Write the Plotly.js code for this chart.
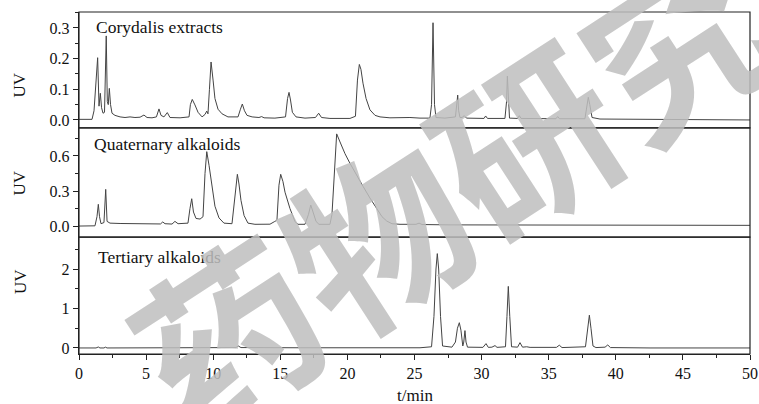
<!DOCTYPE html>
<html>
<head>
<meta charset="utf-8">
<script src="https://cdn.plot.ly/plotly-3.0.1.min.js"></script>
<style>html,body{margin:0;padding:0;background:#fff;}#chart{width:759px;height:404px;}</style>
</head>
<body>
<div id="chart"></div>
<script>
// ---- data (time in min, UV absorbance) ----
const panelLabels = ["Corydalis extracts", "Quaternary alkaloids", "Tertiary alkaloids"];
const xTitle = "t/min";
const yTitle = "UV";
const watermarkText = "药物研究";

const extT = [0,0.97,1.12,1.30,1.39,1.49,1.59,1.68,1.79,1.90,1.97,2.03,2.11,2.18,2.26,2.35,2.46,2.68,3.06,3.43,3.80,4.17,4.55,4.84,5.07,5.44,5.77,5.96,6.11,6.33,6.58,6.78,7.53,8.20,8.30,8.44,8.64,8.87,9.17,9.39,9.52,9.61,9.72,9.84,9.99,10.13,10.36,10.66,11.10,11.85,12.03,12.17,12.33,12.52,12.90,13.41,13.61,13.79,14.60,15.39,15.54,15.65,15.76,15.90,16.17,16.84,17.62,17.86,18.07,18.70,20.19,20.60,20.75,20.89,21.01,21.16,21.39,21.68,22.06,22.43,23.17,24.66,25.41,26.15,26.27,26.38,26.49,26.60,27.27,28.05,28.17,28.22,28.29,28.39,28.54,28.71,28.87,29.58,30.18,30.30,30.44,31.74,31.86,31.92,31.99,32.08,32.68,32.81,32.94,35.54,35.67,35.80,37.70,37.85,37.95,38.06,38.23,38.82,42.55,46.27,50];
const extV = [0.002,0.002,0.03,0.17,0.203,0.045,0.087,0.04,0.022,0.025,0.15,0.274,0.06,0.05,0.103,0.05,0.022,0.015,0.01,0.008,0.01,0.008,0.009,0.016,0.008,0.007,0.01,0.036,0.015,0.01,0.024,0.008,0.007,0.01,0.05,0.067,0.049,0.025,0.01,0.018,0.029,0.02,0.1,0.189,0.13,0.07,0.035,0.02,0.01,0.01,0.035,0.052,0.03,0.015,0.01,0.008,0.011,0.007,0.006,0.01,0.07,0.09,0.065,0.025,0.01,0.006,0.008,0.022,0.008,0.005,0.005,0.012,0.13,0.181,0.165,0.12,0.07,0.033,0.015,0.01,0.007,0.008,0.006,0.006,0.05,0.317,0.05,0.008,0.006,0.01,0.06,0.081,0.03,0.008,0.008,0.014,0.006,0.005,0.005,0.013,0.005,0.005,0.06,0.143,0.06,0.006,0.005,0.014,0.005,0.004,0.011,0.004,0.004,0.05,0.074,0.05,0.008,0.003,0.002,0.001,0.0];

const quatT = [0,1.19,1.34,1.44,1.53,1.64,1.86,1.99,2.09,2.31,3.06,4.55,5.66,6.07,6.24,6.41,6.93,7.15,7.38,8.12,8.27,8.40,8.53,8.72,9.02,9.24,9.39,9.52,9.69,9.91,10.13,10.43,10.80,11.40,11.62,11.80,11.92,12.07,12.30,12.59,13.11,14.23,14.55,14.75,14.90,15.03,15.20,15.35,15.72,16.10,16.32,16.84,17.10,17.27,17.44,17.66,17.88,18.70,18.85,19.00,19.20,19.45,19.82,20.19,20.64,21.18,21.68,22.18,22.58,22.93,23.32,23.92,25.11,25.34,25.56,27.65,31.37,38.82,46.27,50];
const quatV = [0.0,0.002,0.08,0.186,0.08,0.02,0.03,0.314,0.04,0.025,0.022,0.017,0.015,0.018,0.035,0.02,0.017,0.04,0.02,0.025,0.15,0.234,0.12,0.065,0.06,0.08,0.45,0.637,0.52,0.32,0.17,0.07,0.025,0.02,0.25,0.443,0.36,0.22,0.09,0.025,0.015,0.016,0.037,0.05,0.35,0.443,0.38,0.29,0.15,0.037,0.015,0.015,0.1,0.18,0.12,0.04,0.015,0.015,0.1,0.45,0.789,0.72,0.62,0.537,0.44,0.337,0.24,0.152,0.08,0.043,0.02,0.015,0.015,0.025,0.013,0.01,0.01,0.008,0.008,0.006];

const tertT = [0,1.27,1.44,1.56,1.86,1.97,2.09,5.29,7.90,9.02,11.70,11.87,12.07,16.47,20.19,25.41,26.27,26.45,26.60,26.70,26.80,26.94,27.09,27.79,28.05,28.20,28.34,28.46,28.60,28.67,28.76,28.84,28.95,30.10,30.33,30.50,30.77,31.00,31.15,31.78,31.89,31.99,32.10,32.23,32.68,32.86,33.05,33.36,33.61,35.58,35.79,35.99,37.74,37.89,38.03,38.15,38.30,38.52,39.20,39.40,39.60,42.55,50];
const tertV = [0.0,0.0,0.025,0.0,0.0,0.02,0.0,0.005,0.01,0.01,0.01,0.05,0.01,0.005,0.005,0.005,0.03,0.8,2.0,2.39,2.0,0.8,0.05,0.02,0.15,0.5,0.64,0.45,0.05,0.15,0.44,0.15,0.02,0.015,0.11,0.015,0.02,0.06,0.015,0.03,0.8,1.56,0.8,0.03,0.02,0.135,0.02,0.03,0.015,0.015,0.07,0.01,0.03,0.5,0.83,0.5,0.05,0.01,0.02,0.076,0.01,0.0,0.0];

const xTickVals = [0,5,10,15,20,25,30,35,40,45,50];
const y1TickVals = [0.0,0.1,0.2,0.3];
const y2TickVals = [0.0,0.3,0.6];
const y3TickVals = [0,1,2];

// ---- drawing ----
const lineStyle = {color:'#444', width:1};
const traces = [
  {x: extT, y: extV, xaxis:'x', yaxis:'y', mode:'lines', line: lineStyle, hoverinfo:'skip'},
  {x: quatT, y: quatV, xaxis:'x', yaxis:'y2', mode:'lines', line: lineStyle, hoverinfo:'skip'},
  {x: tertT, y: tertV, xaxis:'x', yaxis:'y3', mode:'lines', line: lineStyle, hoverinfo:'skip'}
];

const serif = 'Liberation Serif, Times New Roman, serif';
const tickFont = {family: serif, size: 16, color:'#111'};
const labelFont = {family: serif, size: 17.5, color:'#111'};
const dom3 = [0, 0.342], dom2 = [0.342, 0.661], dom1 = [0.661, 1];

function yAxis(domain, range, vals, fmt, minorDt){
  return {domain, range, tickvals: vals, tickformat: fmt, ticks:'outside', ticklen:5, tickwidth:1, tickcolor:'#222',
    showline:true, linecolor:'#222', linewidth:1.2, mirror:false, showgrid:false, zeroline:false,
    tickfont: tickFont, fixedrange:true,
    minor:{dtick:minorDt, ticks:'outside', ticklen:3, tickcolor:'#222', showgrid:false}};
}

const layout = {
  width:759, height:404,
  margin:{l:79, r:9, t:12, b:50},
  paper_bgcolor:'#fff', plot_bgcolor:'#fff',
  showlegend:false,
  xaxis:{anchor:'y3', range:[0,50], tickvals:xTickVals, ticks:'outside', ticklen:5, tickcolor:'#222',
    showline:true, linecolor:'#222', linewidth:1.2, showgrid:false, zeroline:false, tickfont:tickFont,
    minor:{dtick:2.5, ticks:'outside', ticklen:3, tickcolor:'#222', showgrid:false}},
  yaxis: Object.assign(yAxis(dom1, [-0.026, 0.352], y1TickVals, '.1f', 0.05), {anchor:'x'}),
  yaxis2: Object.assign(yAxis(dom2, [-0.094, 0.84], y2TickVals, '.1f', 0.15), {anchor:'x'}),
  yaxis3: Object.assign(yAxis(dom3, [-0.153, 2.81], y3TickVals, 'd', 0.5), {anchor:'x'}),
  shapes: [dom1, dom2, dom3].map(d => ({type:'rect', xref:'paper', yref:'paper', x0:0, x1:1, y0:d[0], y1:d[1],
    line:{color:'#222', width:1.2}, fillcolor:'rgba(0,0,0,0)', layer:'above'})),
  annotations: [
    {text: panelLabels[0], xref:'paper', yref:'paper', x:0.022, y:0.955, xanchor:'left', yanchor:'middle', showarrow:false, font:labelFont},
    {text: panelLabels[1], xref:'paper', yref:'paper', x:0.019, y:0.615, xanchor:'left', yanchor:'middle', showarrow:false, font:labelFont},
    {text: panelLabels[2], xref:'paper', yref:'paper', x:0.025, y:0.285, xanchor:'left', yanchor:'middle', showarrow:false, font:labelFont},
    {text: yTitle, xref:'paper', yref:'paper', x:-0.088, xanchor:'center', y:(dom1[0]+dom1[1])/2, textangle:-90, showarrow:false, font:{family:serif, size:17, color:'#111'}},
    {text: yTitle, xref:'paper', yref:'paper', x:-0.088, xanchor:'center', y:(dom2[0]+dom2[1])/2, textangle:-90, showarrow:false, font:{family:serif, size:17, color:'#111'}},
    {text: yTitle, xref:'paper', yref:'paper', x:-0.088, xanchor:'center', y:(dom3[0]+dom3[1])/2, textangle:-90, showarrow:false, font:{family:serif, size:17, color:'#111'}},
    {text: xTitle, xref:'paper', yref:'paper', x:0.5, y:-0.12, yanchor:'middle', showarrow:false, font:{family:serif, size:17, color:'#111'}},
    {text: watermarkText, xref:'paper', yref:'paper', x:0.55, y:0.5, xanchor:'center', yanchor:'middle', textangle:-33, showarrow:false,
      font:{family:'Noto Sans CJK SC', size:178, color:'rgba(190,190,190,0.85)', weight:700}}
  ]
};

Plotly.newPlot('chart', traces, layout, {staticPlot:true, displayModeBar:false});
</script>
</body>
</html>
